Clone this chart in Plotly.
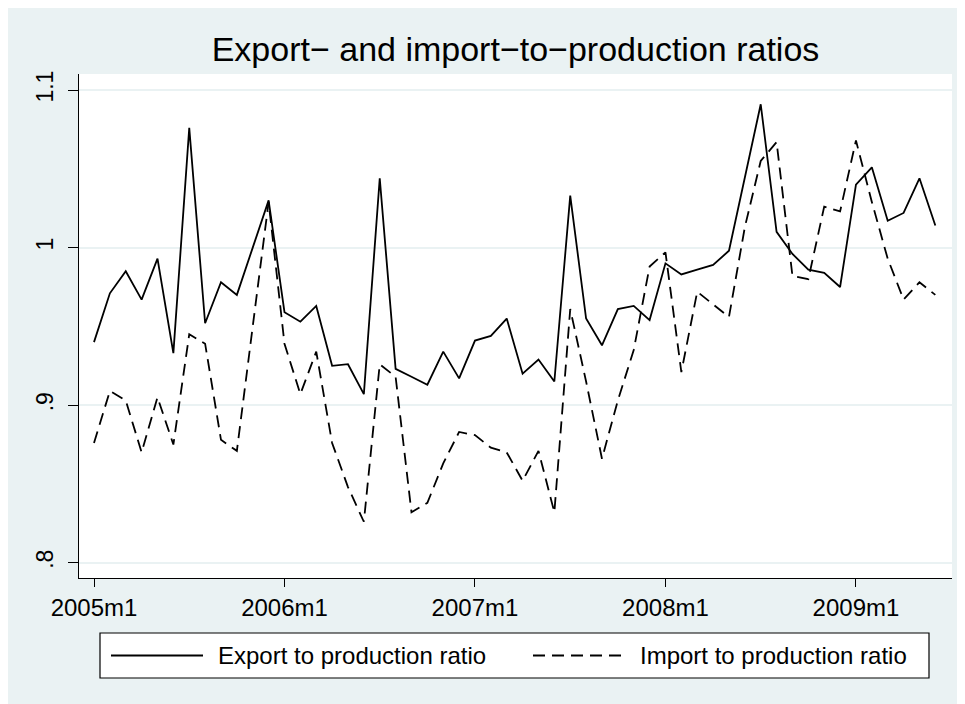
import plotly.graph_objects as go

# ---- data ----
month_labels = [f"{y}m{m}" for y in range(2005, 2010) for m in range(1, 13)][:54]
month_index = list(range(len(month_labels)))

export_ratio = [0.940, 0.971, 0.985, 0.967, 0.993, 0.933, 1.076, 0.952, 0.978, 0.970,
                1.000, 1.030, 0.959, 0.953, 0.963, 0.925, 0.926, 0.907, 1.044, 0.923,
                0.918, 0.913, 0.934, 0.917, 0.941, 0.944, 0.955, 0.920, 0.929, 0.915,
                1.033, 0.955, 0.938, 0.961, 0.963, 0.954, 0.990, 0.983, 0.986, 0.989,
                0.998, 1.045, 1.091, 1.010, 0.996, 0.986, 0.984, 0.975, 1.040, 1.051,
                1.017, 1.022, 1.044, 1.014]

import_ratio = [0.876, 0.909, 0.903, 0.870, 0.905, 0.875, 0.945, 0.939, 0.878, 0.871,
                0.950, 1.029, 0.939, 0.907, 0.934, 0.876, 0.848, 0.826, 0.926, 0.918,
                0.832, 0.838, 0.863, 0.883, 0.881, 0.873, 0.870, 0.852, 0.871, 0.832,
                0.961, 0.915, 0.866, 0.903, 0.935, 0.988, 0.997, 0.921, 0.972, 0.964,
                0.956, 1.013, 1.055, 1.067, 0.982, 0.980, 1.026, 1.023, 1.068, 1.029,
                0.993, 0.967, 0.978, 0.970]

x_tick_labels = ["2005m1", "2006m1", "2007m1", "2008m1", "2009m1"]
y_tick_vals = [0.8, 0.9, 1.0, 1.1]
y_tick_text = [".8", ".9", "1", "1.1"]

series_names = ["Export to production ratio", "Import to production ratio"]
title_text = "Export\u2212 and import\u2212to\u2212production ratios"

# ---- layout geometry (pixels, figure coordinates) ----
W, H = 965, 704
OFF = 8  # page body margin offset seen in the screenshot
ML, MR, MT, MB = 71, 21, 66, 134
PW, PH = W - ML - MR, H - MT - MB
BG = "#EAF2F3"
FONT = "Liberation Sans, Arial, sans-serif"
DASH = "12px,7px"


def px_x(p):
    return (p - OFF - ML) / PW


def px_y(p):
    return (H - MB - (p - OFF)) / PH


fig = go.Figure()
fig.add_trace(go.Scatter(x=month_index, y=export_ratio, mode="lines",
                         name=series_names[0],
                         line=dict(color="black", width=1.8)))
fig.add_trace(go.Scatter(x=month_index, y=import_ratio, mode="lines",
                         name=series_names[1],
                         line=dict(color="black", width=1.8, dash=DASH)))

tick_idx = [month_labels.index(t) for t in x_tick_labels]

shapes = [
    # legend box
    dict(type="rect", xref="paper", yref="paper",
         x0=px_x(100), x1=px_x(929), y0=px_y(678), y1=px_y(633),
         fillcolor="white", line=dict(color="black", width=1.2), layer="below"),
    # legend samples
    dict(type="line", xref="paper", yref="paper",
         x0=px_x(111), x1=px_x(203), y0=px_y(655.5), y1=px_y(655.5),
         line=dict(color="black", width=1.8)),
    dict(type="line", xref="paper", yref="paper",
         x0=px_x(533), x1=px_x(625), y0=px_y(655.5), y1=px_y(655.5),
         line=dict(color="black", width=1.8, dash=DASH)),
]

annotations = [
    dict(text=series_names[0], xref="paper", yref="paper",
         x=px_x(216), y=px_y(655.5), xanchor="left", yanchor="middle",
         showarrow=False, font=dict(family=FONT, size=24, color="black")),
    dict(text=series_names[1], xref="paper", yref="paper",
         x=px_x(638), y=px_y(655.5), xanchor="left", yanchor="middle",
         showarrow=False, font=dict(family=FONT, size=24, color="black")),
]

fig.update_layout(
    width=W, height=H,
    margin=dict(l=ML, r=MR, t=MT, b=MB),
    paper_bgcolor=BG,
    plot_bgcolor="white",
    showlegend=False,
    font=dict(family=FONT, color="black"),
    title=dict(text=title_text, x=(ML + PW / 2) / W, xref="container", xanchor="center",
               y=1 - (49.5 - OFF) / H, yref="container", yanchor="middle",
               font=dict(family=FONT, size=34, color="black")),
    shapes=shapes,
    annotations=annotations,
    xaxis=dict(range=[-0.945, 54.05], tickmode="array",
               tickvals=tick_idx, ticktext=x_tick_labels,
               showgrid=False, zeroline=False,
               showline=True, linecolor="black", linewidth=1,
               ticks="outside", ticklen=8, tickwidth=1, tickcolor="black",
               tickfont=dict(family=FONT, size=24, color="black")),
    yaxis=dict(range=[0.7903, 1.1102], tickmode="array",
               tickvals=y_tick_vals, ticktext=y_tick_text, tickangle=-90,
               ticklabelstandoff=6,
               showgrid=True, gridcolor=BG, gridwidth=1.5, zeroline=False,
               showline=True, linecolor="black", linewidth=1,
               ticks="outside", ticklen=10, tickwidth=1, tickcolor="black",
               tickfont=dict(family=FONT, size=23, color="black")),
)

fig.write_html("out.html")
